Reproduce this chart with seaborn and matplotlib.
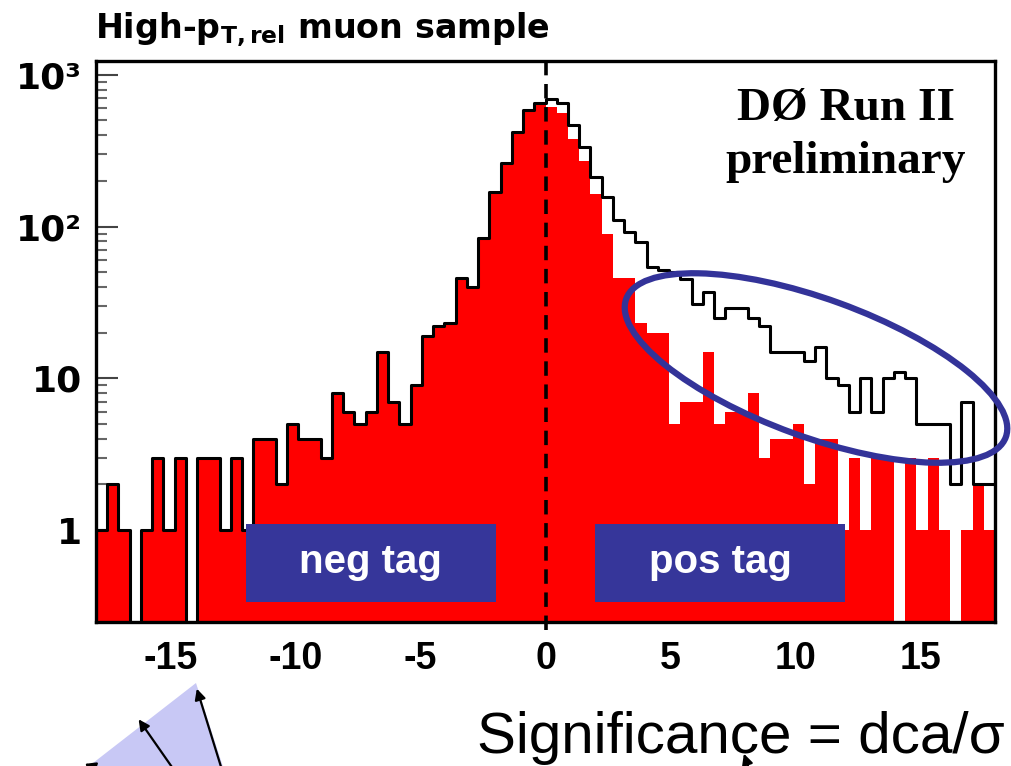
import numpy as np
import pandas as pd
import matplotlib
matplotlib.use("Agg")
import matplotlib.pyplot as plt
import seaborn as sns
from matplotlib.patches import Ellipse, Rectangle, Polygon, FancyArrowPatch
from matplotlib.ticker import LogLocator, NullFormatter, FixedLocator, FixedFormatter
import matplotlib.transforms as mtransforms

# ---------------- data ----------------
x_min, x_max, n_bins = -18.0, 18.0, 80

# black outline histogram (all muons)
all_counts = [1, 2, 1, 0, 1, 3, 1, 3, 0, 3,
              3, 1, 3, 1, 4, 4, 2, 5, 4, 4,
              3, 8, 6, 5, 6, 15, 7, 5, 9, 19,
              22, 23, 46, 40, 84, 169, 263, 418, 585, 650,
              690, 650, 468, 335, 212, 157, 110, 92, 79, 54,
              52, 50, 45, 31, 37, 25, 29, 29, 25, 22,
              15, 15, 15, 13, 16, 10, 9, 6, 10, 6,
              10, 11, 10, 5, 5, 5, 2, 7, 2, 2]

# red filled histogram
red_counts = [1, 2, 1, 0, 1, 3, 1, 3, 0, 3,
              3, 1, 3, 1, 4, 4, 2, 5, 4, 4,
              3, 8, 6, 5, 6, 15, 7, 5, 9, 19,
              22, 23, 46, 40, 84, 169, 263, 418, 585, 640,
              610, 560, 380, 270, 165, 90, 46, 46, 23, 20,
              20, 5, 7, 7, 15, 5, 6, 6, 8, 3,
              4, 4, 5, 2, 4, 4, 1, 3, 1, 3,
              3, 0, 3, 1, 3, 1, 0, 1, 2, 1]

x_ticks = [-15, -10, -5, 0, 5, 10, 15]
x_tick_labels = ["-15", "-10", "-5", "0", "5", "10", "15"]
y_ticks = [1, 10, 100, 1000]
y_tick_labels = ["1", "10", "10\u00b2", "10\u00b3"]
tag_names = ["neg tag", "pos tag"]
tag_ranges = [(-12, -2), (2, 12)]

edges = np.linspace(x_min, x_max, n_bins + 1)
centers = 0.5 * (edges[:-1] + edges[1:])
df = pd.DataFrame({"center": centers,
                   "all": np.asarray(all_counts, dtype=float),
                   "red": np.asarray(red_counts, dtype=float)})

# ---------------- style ----------------
sns.set_style("white")
plt.rcParams["font.family"] = ["DejaVu Sans"]
plt.rcParams["mathtext.default"] = "regular"
plt.rcParams["text.color"] = "black"
plt.rcParams["xtick.color"] = "black"
plt.rcParams["ytick.color"] = "black"
plt.rcParams["axes.labelcolor"] = "black"

W, H = 1011, 766
fig = plt.figure(figsize=(W / 100, H / 100), dpi=100)
fig.patch.set_facecolor("white")
ax = fig.add_axes([96 / W, 1 - 622 / H, (995 - 96) / W, (622 - 61) / H])
ax.set_facecolor("white")

sns.histplot(data=df, x="center", weights="red", bins=n_bins,
             binrange=(x_min, x_max), element="step",
             fill=True, color="#ff0000", alpha=1.0, linewidth=0, ax=ax, zorder=2)
sns.histplot(data=df, x="center", weights="all", bins=n_bins,
             binrange=(x_min, x_max), element="step",
             fill=False, color="black", linewidth=2.2, ax=ax, zorder=3)

ax.set_yscale("log")
ax.set_xlim(x_min, x_max)
ax.set_ylim(0.248, 1233)
ax.set_xlabel("")
ax.set_ylabel("")

# dashed line at zero
ax.axvline(0, ymin=-0.015, ymax=1, color="black", lw=2.6, ls=(0, (4, 2.4)),
           zorder=4, clip_on=False)

# ticks
ax.xaxis.set_major_locator(FixedLocator(x_ticks))
ax.xaxis.set_major_formatter(FixedFormatter(x_tick_labels))
ax.yaxis.set_major_locator(FixedLocator(y_ticks))
ax.yaxis.set_major_formatter(FixedFormatter(y_tick_labels))
ax.yaxis.set_minor_locator(LogLocator(base=10, subs=np.arange(2, 10)))
ax.yaxis.set_minor_formatter(NullFormatter())
ax.tick_params(axis="x", length=0, pad=14, labelcolor="black")
ax.tick_params(axis="y", which="major", direction="in", length=16, width=1.5,
               color="#444444", pad=10, left=True, labelcolor="black")
ax.tick_params(axis="y", which="minor", direction="in", length=8, width=1.5,
               color="#666666", left=True)
for lab in ax.get_xticklabels():
    lab.set_family(["Liberation Sans", "DejaVu Sans"])
    lab.set_fontweight("bold")
    lab.set_fontsize(27)
for lab in ax.get_yticklabels():
    lab.set_family(["DejaVu Sans"])
    lab.set_fontweight("bold")
    lab.set_fontsize(26)

for sp in ax.spines.values():
    sp.set_color("black")
    sp.set_linewidth(2.4)
    sp.set_zorder(6)

# tag boxes
blend = mtransforms.blended_transform_factory(ax.transData, ax.transAxes)
for name, (x0, x1) in zip(tag_names, tag_ranges):
    ax.add_patch(Rectangle((x0, 0.0357), x1 - x0, 0.139, transform=blend,
                           facecolor="#36369a", edgecolor="none", zorder=7))
    ax.text(0.5 * (x0 + x1), 0.0873, name, transform=blend, ha="center",
            va="baseline", color="white", fontsize=29, fontweight="bold",
            family=["Liberation Sans", "DejaVu Sans"], zorder=8)

# figure-pixel helper (image coordinates, origin top-left)
def px(x, y):
    return (x / 100.0, (H - y) / 100.0)

# ellipse highlighting the positive tail
fig.add_artist(Ellipse(px(816, 368), 4.04, 1.38, angle=-20, fill=False,
                       edgecolor="#333399", linewidth=4.5,
                       transform=fig.dpi_scale_trans, zorder=10))

# text
fig.text(95 / W, 1 - 38 / H, r"High-p$_{\mathregular{T,rel}}$ muon sample",
         fontsize=24, fontweight="bold", ha="left", va="baseline",
         color="black", family=["DejaVu Sans"])
fig.text(846 / W, 1 - 120 / H, "D\u00d8 Run II", fontsize=34, fontweight="bold",
         ha="center", va="baseline", color="black",
         family=["Liberation Serif", "DejaVu Serif"])
fig.text(846 / W, 1 - 173 / H, "preliminary", fontsize=34, fontweight="bold",
         ha="center", va="baseline", color="black",
         family=["Liberation Serif", "DejaVu Serif"])
fig.text(1005 / W, 1 - 753 / H, "Significance = dca/\u03c3", fontsize=42,
         ha="right", va="baseline", color="black",
         family=["Liberation Sans", "DejaVu Sans"])

# decorative lavender wedge with arrows (bottom-left)
fig.add_artist(Polygon([px(196, 683), px(84, 770), px(224, 770)], closed=True,
                       facecolor="#c8c8f5", edgecolor="none",
                       transform=fig.dpi_scale_trans, zorder=1))
for (xa, ya), (xb, yb) in [((222, 770), (196, 686)),
                           ((174, 770), (137, 717)),
                           ((102, 770), (82, 763)),
                           ((750, 772), (743, 751))]:
    fig.add_artist(FancyArrowPatch(px(xa, ya), px(xb, yb), arrowstyle="-|>",
                                   mutation_scale=16, lw=1.6, color="black",
                                   transform=fig.dpi_scale_trans, zorder=2))

fig.savefig("out.png", dpi=100, facecolor="white")
